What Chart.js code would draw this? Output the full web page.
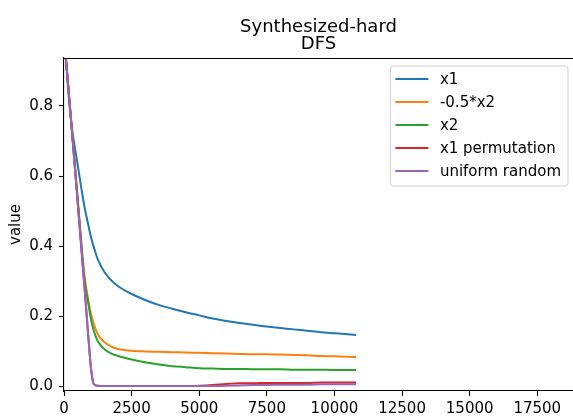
<!DOCTYPE html>
<html>
<head>
<meta charset="utf-8">
<script src="https://cdn.jsdelivr.net/npm/chart.js@4/dist/chart.umd.min.js"></script>
<style>
  html, body { margin: 0; padding: 0; background: #fff; }
  #wrap { width: 573px; height: 416px; }
</style>
</head>
<body>
<div id="wrap"><canvas id="chart" width="573" height="416"></canvas></div>
<script>
// training steps shared by every curve
const steps = [0, 250, 500, 750, 900, 1000, 1100, 1250, 1500, 1750, 2000, 2500, 3000, 3500, 4000,
  4500, 5000, 5500, 6000, 6500, 7000, 7500, 8000, 8500, 9000, 9500, 10000, 10500, 10800];

const x1 = [1.0, 0.765, 0.635, 0.515, 0.46, 0.425, 0.397, 0.362, 0.325, 0.302, 0.285, 0.263, 0.246, 0.232, 0.221,
  0.211, 0.202, 0.193, 0.186, 0.180, 0.175, 0.170, 0.166, 0.162, 0.158, 0.154, 0.151, 0.148, 0.146];
const negHalfX2 = [1.0, 0.77, 0.54, 0.32, 0.245, 0.205, 0.178, 0.148, 0.125, 0.113, 0.106, 0.101, 0.099, 0.098, 0.097,
  0.096, 0.095, 0.094, 0.093, 0.092, 0.091, 0.091, 0.090, 0.089, 0.088, 0.086, 0.085, 0.084, 0.083];
const x2 = [1.0, 0.77, 0.54, 0.31, 0.235, 0.19, 0.158, 0.128, 0.105, 0.093, 0.086, 0.076, 0.068, 0.062, 0.057,
  0.054, 0.051, 0.050, 0.049, 0.049, 0.048, 0.048, 0.048, 0.047, 0.047, 0.047, 0.046, 0.046, 0.046];
const x1Perm = [1.0, 0.77, 0.53, 0.29, 0.14, 0.05, 0.006, 0.001, 0.0, 0.0, 0.0, 0.0, 0.0, 0.0, 0.0,
  0.0, 0.001, 0.003, 0.006, 0.008, 0.008, 0.009, 0.009, 0.009, 0.009, 0.010, 0.010, 0.010, 0.010];
const uniform = [1.0, 0.77, 0.53, 0.29, 0.14, 0.05, 0.006, 0.001, 0.0, 0.0, 0.0, 0.0, 0.0, 0.0, 0.0,
  0.0, 0.0, 0.0, 0.001, 0.002, 0.003, 0.003, 0.004, 0.004, 0.004, 0.005, 0.005, 0.005, 0.005];

const seriesNames = ['x1', '-0.5*x2', 'x2', 'x1 permutation', 'uniform random'];
const seriesValues = [x1, negHalfX2, x2, x1Perm, uniform];
const colors = ['#1f77b4', '#ff7f0e', '#2ca02c', '#d62728', '#9467bd'];

const xTicks = [0, 2500, 5000, 7500, 10000, 12500, 15000, 17500];
const yTicks = [0.0, 0.2, 0.4, 0.6, 0.8];
const titleLines = ['Synthesized-hard', 'DFS'];

const FONT = 'DejaVu Sans';
const SMALL = 15;
const LARGE = 18;

const datasets = seriesNames.map((name, i) => ({
  label: name,
  data: steps.map((s, j) => ({ x: s, y: seriesValues[i][j] })),
  borderColor: colors[i],
  backgroundColor: colors[i],
  borderWidth: 2,
  pointRadius: 0,
  cubicInterpolationMode: 'monotone',
  // later series sit on top, like matplotlib
  order: seriesNames.length - i
}));

// title, top spine and legend box
const decor = {
  id: 'decor',
  afterDraw(chart) {
    const { ctx, chartArea: a } = chart;
    ctx.save();

    ctx.strokeStyle = '#000';
    ctx.lineWidth = 1.1;
    ctx.beginPath();
    ctx.moveTo(a.left, a.top + 0.5);
    ctx.lineTo(a.right, a.top + 0.5);
    ctx.stroke();

    ctx.fillStyle = '#000';
    ctx.font = LARGE + 'px "' + FONT + '"';
    ctx.textAlign = 'center';
    ctx.textBaseline = 'alphabetic';
    const cx = (a.left + a.right) / 2;
    ctx.fillText(titleLines[0], cx, 31.5);
    ctx.fillText(titleLines[1], cx, 48.5);

    ctx.font = SMALL + 'px "' + FONT + '"';
    let maxW = 0;
    chart.data.datasets.forEach(d => { maxW = Math.max(maxW, ctx.measureText(d.label).width); });
    const w = 5.5 + 33 + 11.5 + maxW + 6.5;
    const h = 120;
    const bx = a.right - 5.5 - w;
    const by = a.top + 7.5;
    ctx.beginPath();
    ctx.roundRect(bx + 0.5, by + 0.5, w, h, 3);
    ctx.fillStyle = 'rgba(255,255,255,0.8)';
    ctx.fill();
    ctx.strokeStyle = '#d0d0d0';
    ctx.lineWidth = 1;
    ctx.stroke();

    ctx.textAlign = 'left';
    ctx.textBaseline = 'middle';
    chart.data.datasets.forEach((d, i) => {
      const y = by + 13.5 + i * 23;
      ctx.strokeStyle = d.borderColor;
      ctx.lineWidth = 2;
      ctx.beginPath();
      ctx.moveTo(bx + 5.5, y);
      ctx.lineTo(bx + 38.5, y);
      ctx.stroke();
      ctx.fillStyle = '#000';
      ctx.fillText(d.label, bx + 50, y + 1);
    });
    ctx.restore();
  }
};

new Chart(document.getElementById('chart'), {
  type: 'line',
  data: { datasets },
  options: {
    responsive: false,
    animation: false,
    layout: { padding: { top: 58, right: 0, bottom: 0, left: 0 } },
    plugins: {
      legend: { display: false },
      title: { display: false },
      tooltip: { enabled: false }
    },
    scales: {
      x: {
        type: 'linear',
        min: 0,
        max: 18820,
        afterBuildTicks: axis => { axis.ticks = xTicks.map(v => ({ value: v })); },
        afterFit: axis => { axis.height = 25; },
        border: { color: '#000', width: 1.1 },
        grid: { drawOnChartArea: false, drawTicks: true, tickLength: 5, tickColor: '#000', tickWidth: 1.1 },
        ticks: {
          color: '#000',
          padding: 4,
          maxRotation: 0,
          autoSkip: false,
          font: { family: FONT, size: SMALL },
          callback: v => String(v)
        }
      },
      y: {
        min: -0.014,
        max: 0.937,
        afterBuildTicks: axis => { axis.ticks = yTicks.map(v => ({ value: v })); },
        afterFit: axis => { axis.width = 64; },
        border: { color: '#000', width: 1.1 },
        grid: { drawOnChartArea: false, drawTicks: true, tickLength: 5, tickColor: '#000', tickWidth: 1.1 },
        title: {
          display: true,
          text: 'value',
          color: '#000',
          font: { family: FONT, size: SMALL },
          padding: { top: 7, bottom: 0 }
        },
        ticks: {
          color: '#000',
          padding: 6,
          autoSkip: false,
          font: { family: FONT, size: SMALL },
          callback: v => v.toFixed(1)
        }
      }
    }
  },
  plugins: [decor]
});
</script>
</body>
</html>
